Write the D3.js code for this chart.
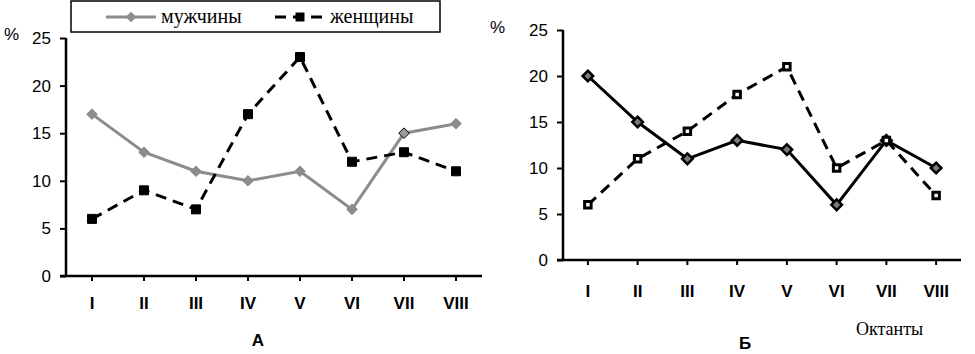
<!DOCTYPE html>
<html>
<head>
<meta charset="utf-8">
<script src="https://cdn.jsdelivr.net/npm/d3@7"></script>
<style>
  body { margin: 0; background: #fff; }
  text { font-family: "Liberation Sans", Arial, sans-serif; }
  .serif { font-family: "Liberation Serif", "Times New Roman", serif; }
</style>
</head>
<body>
<div id="chart"></div>
<script>
// DATA -----------------------------------------------------------------
const octants = ['I', 'II', 'III', 'IV', 'V', 'VI', 'VII', 'VIII'];
const yTicks = [0, 5, 10, 15, 20, 25];

// panel A
const menA = [17, 13, 11, 10, 11, 7, 15, 16];
const womenA = [6, 9, 7, 17, 23, 12, 13, 11];

// panel Б
const solidB = [20, 15, 11, 13, 12, 6, 13, 10];
const dashedB = [6, 11, 14, 18, 21, 10, 13, 7];

const legendLabels = ['мужчины', 'женщины'];

// CHART INIT -----------------------------------------------------------
const svg = d3.select('#chart')
    .append('svg')
    .attr('width', 975)
    .attr('height', 354);

const diamond = d3.symbol().type(d3.symbolDiamond2).size(72);

function panel(cfg) {
    const x = d3.scaleBand()
        .domain(octants)
        .range([cfg.left, cfg.right]);

    const y = d3.scaleLinear()
        .domain([0, 25])
        .range([cfg.bottom, cfg.top]);

    const g = svg.append('g');

    // y axis
    const yAxis = g.append('g')
        .attr('transform', 'translate(' + cfg.left + ',0)')
        .call(d3.axisLeft(y).tickValues(yTicks).tickSize(6).tickPadding(9));
    yAxis.selectAll('text')
        .attr('font-size', 17)
        .attr('fill', '#000');

    // x axis
    const xAxis = g.append('g')
        .attr('transform', 'translate(0,' + cfg.bottom + ')')
        .call(d3.axisBottom(x).tickSize(5).tickPadding(cfg.xPad));
    xAxis.selectAll('text')
        .attr('font-size', 17)
        .attr('font-weight', 'bold')
        .attr('fill', '#000');

    g.selectAll('.domain')
        .attr('stroke', '#000')
        .attr('stroke-width', 2.5);
    g.selectAll('.tick line')
        .attr('stroke', '#000')
        .attr('stroke-width', 2);
    // the y-axis domain path draws outer ticks, flatten them
    yAxis.select('.domain').attr('d', 'M0,' + cfg.bottom + 'V' + cfg.top);
    xAxis.select('.domain').attr('d', 'M' + (cfg.left - 6) + ',0H' + cfg.right);

    const cx = d => x(d) + x.bandwidth() / 2;

    const line = d3.line()
        .x((d, i) => cx(octants[i]))
        .y(d => y(d));

    cfg.series.forEach(s => {
        g.append('path')
            .datum(s.values)
            .attr('fill', 'none')
            .attr('stroke', s.color)
            .attr('stroke-width', 3)
            .attr('stroke-dasharray', s.dash || null)
            .attr('d', line);
    });

    cfg.series.forEach(s => {
        g.selectAll(null)
            .data(s.values)
            .enter()
            .append('path')
            .attr('transform', (d, i) => 'translate(' + cx(octants[i]) + ',' + y(d) + ')')
            .attr('d', s.marker)
            .attr('fill', (d, i) => (s.fillAt && s.fillAt[i]) || s.fill)
            .attr('stroke', (d, i) => (s.strokeAt && s.strokeAt[i]) || s.stroke)
            .attr('stroke-width', s.strokeWidth);
    });

    // "%" label
    g.append('text')
        .attr('x', cfg.pctX)
        .attr('y', cfg.pctY)
        .attr('font-size', 17)
        .text('%');

    // panel letter
    g.append('text')
        .attr('x', cfg.letterX)
        .attr('y', cfg.letterY)
        .attr('text-anchor', 'middle')
        .attr('font-size', 17)
        .attr('font-weight', 'bold')
        .text(cfg.letter);

    return g;
}

const squareA = d3.symbol().type(d3.symbolSquare).size(81);
const squareB = d3.symbol().type(d3.symbolSquare).size(42);

panel({
    left: 66, right: 482, top: 38, bottom: 276, xPad: 16,
    pctX: 4, pctY: 40, letter: 'А', letterX: 258, letterY: 346,
    series: [
        {values: menA, color: '#8c8c8c', marker: diamond, fill: '#8c8c8c', stroke: '#8c8c8c', strokeWidth: 1,
         strokeAt: [null, null, null, null, null, null, '#000', null], fillAt: [null, null, null, null, null, null, '#9a9a9a', null]},
        {values: womenA, color: '#000', dash: '11,7', marker: squareA, fill: '#000', stroke: '#000', strokeWidth: 1}
    ]
});

panel({
    left: 563, right: 961, top: 30, bottom: 260, xPad: 20,
    pctX: 490, pctY: 33, letter: 'Б', letterX: 745, letterY: 349,
    series: [
        {values: solidB, color: '#000', marker: diamond, fill: '#7a7a7a', stroke: '#000', strokeWidth: 2.5},
        {values: dashedB, color: '#000', dash: '11,7', marker: squareB, fill: '#fff', stroke: '#000', strokeWidth: 3}
    ]
});

// "Октанты" axis caption
svg.append('text')
    .attr('class', 'serif')
    .attr('x', 856)
    .attr('y', 335)
    .attr('font-size', 18)
    .text('Октанты');

// LEGEND ---------------------------------------------------------------
const legend = svg.append('g');
legend.append('rect')
    .attr('x', 71).attr('y', 1)
    .attr('width', 369).attr('height', 31)
    .attr('fill', '#fff')
    .attr('stroke', '#000')
    .attr('stroke-width', 1.5);

legend.append('line')
    .attr('x1', 106).attr('x2', 156).attr('y1', 17).attr('y2', 17)
    .attr('stroke', '#8c8c8c').attr('stroke-width', 3);
legend.append('path')
    .attr('transform', 'translate(131,17)')
    .attr('d', diamond)
    .attr('fill', '#8c8c8c');
legend.append('text')
    .attr('class', 'serif')
    .attr('x', 161).attr('y', 23)
    .attr('font-size', 20)
    .text(legendLabels[0]);

legend.append('line')
    .attr('x1', 275).attr('x2', 325).attr('y1', 17).attr('y2', 17)
    .attr('stroke', '#000').attr('stroke-width', 3)
    .attr('stroke-dasharray', '11,7');
legend.append('path')
    .attr('transform', 'translate(300,17)')
    .attr('d', squareA)
    .attr('fill', '#000');
legend.append('text')
    .attr('class', 'serif')
    .attr('x', 330).attr('y', 23)
    .attr('font-size', 20)
    .text(legendLabels[1]);
</script>
</body>
</html>
